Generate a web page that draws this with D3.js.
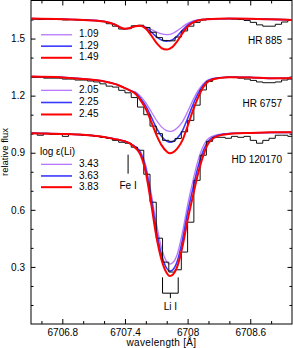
<!DOCTYPE html>
<html><head><meta charset="utf-8">
<script src="https://cdn.jsdelivr.net/npm/d3@7"></script>
<style>body{margin:0;background:#fff}svg{display:block}text{font-family:"Liberation Sans",Arial,sans-serif}</style>
</head><body><svg id="c" width="293" height="348"></svg>
<script>
// ---------- data ----------
const xMajorTicks = [6706.8, 6707.4, 6708.0, 6708.6];
const xMinorTicks = [6706.6, 6707.0, 6707.2, 6707.6, 6707.8, 6708.2, 6708.4, 6708.8];
const yMajorTicks = [0.3, 0.6, 0.9, 1.2, 1.5];
const yMinorTicks = [0.1, 0.2, 0.4, 0.5, 0.7, 0.8, 1.0, 1.1, 1.3, 1.4, 1.6];
const starNames = ["HR 885", "HR 6757", "HD 120170"];
const abundances = [["1.09","1.29","1.49"],["2.05","2.25","2.45"],["3.43","3.63","3.83"]];
const modelColors = ["#b877ff", "#3a3aff", "#ff0000"];
const modelWave = [6706.5,6706.8,6707.0,6707.2,6707.3,6707.35,6707.4,6707.45,6707.5,6707.55,6707.6,6707.65,6707.7,6707.75,6707.8,6707.83,6707.86,6707.9,6707.95,6708.0,6708.05,6708.1,6708.15,6708.2,6708.3,6708.4,6708.6,6708.8,6709.0];
// HR 885 models (low, mid, high Li)
const hr885Low  = [1.605,1.602,1.598,1.590,1.575,1.560,1.551,1.555,1.565,1.567,1.562,1.549,1.535,1.525,1.521,1.522,1.528,1.541,1.561,1.580,1.592,1.598,1.601,1.602,1.604,1.605,1.604,1.601,1.598];
const hr885Mid  = [1.605,1.602,1.598,1.590,1.575,1.560,1.551,1.555,1.565,1.567,1.557,1.535,1.510,1.492,1.486,1.488,1.495,1.513,1.543,1.570,1.587,1.596,1.600,1.602,1.604,1.605,1.604,1.601,1.598];
const hr885High = [1.605,1.602,1.598,1.590,1.575,1.560,1.551,1.555,1.565,1.567,1.552,1.518,1.478,1.450,1.442,1.447,1.458,1.485,1.527,1.562,1.584,1.595,1.600,1.602,1.604,1.605,1.604,1.601,1.598];
// HR 6757 models
const hr6757Low  = [1.300,1.296,1.288,1.275,1.262,1.252,1.240,1.227,1.220,1.196,1.162,1.118,1.072,1.036,1.016,1.012,1.015,1.030,1.062,1.115,1.175,1.226,1.262,1.284,1.295,1.297,1.296,1.291,1.293];
const hr6757Mid  = [1.300,1.296,1.288,1.275,1.262,1.252,1.240,1.227,1.214,1.185,1.145,1.090,1.032,0.987,0.961,0.955,0.959,0.976,1.015,1.080,1.150,1.210,1.255,1.280,1.294,1.297,1.296,1.291,1.293];
const hr6757High = [1.300,1.296,1.288,1.275,1.262,1.252,1.240,1.227,1.210,1.175,1.130,1.065,0.995,0.940,0.906,0.897,0.902,0.922,0.965,1.040,1.120,1.190,1.245,1.275,1.292,1.297,1.296,1.291,1.293];
// HD 120170 models
const hd120170Low  = [1.003,0.999,0.994,0.983,0.972,0.967,0.960,0.948,0.934,0.905,0.832,0.690,0.530,0.400,0.328,0.315,0.323,0.365,0.480,0.625,0.750,0.860,0.935,0.975,0.996,1.001,1.004,1.006,1.007];
const hd120170Mid  = [1.003,0.999,0.994,0.983,0.972,0.967,0.960,0.948,0.930,0.898,0.815,0.665,0.495,0.365,0.292,0.278,0.286,0.328,0.440,0.585,0.710,0.825,0.910,0.962,0.993,1.001,1.004,1.006,1.007];
const hd120170High = [1.003,0.999,0.994,0.983,0.972,0.967,0.960,0.948,0.925,0.888,0.795,0.635,0.462,0.338,0.268,0.252,0.260,0.300,0.405,0.545,0.670,0.790,0.885,0.950,0.990,0.999,1.004,1.007,1.008];
// observed spectra (bin start wavelengths, step histogram)
const obsWave = [6706.50,6706.56,6706.62,6706.68,6706.74,6706.80,6706.86,6706.92,6706.98,6707.04,6707.10,6707.16,6707.22,6707.28,6707.34,6707.40,6707.46,6707.52,6707.58,6707.64,6707.70,6707.76,6707.82,6707.88,6707.94,6708.00,6708.06,6708.12,6708.18,6708.24,6708.30,6708.36,6708.42,6708.48,6708.54,6708.60,6708.66,6708.72,6708.78,6708.84,6708.90,6708.96];
const obsEnd = 6709.0;
const hr885Obs = [1.603,1.600,1.603,1.600,1.600,1.598,1.600,1.598,1.598,1.595,1.595,1.590,1.578,1.565,1.550,1.552,1.567,1.570,1.558,1.533,1.505,1.490,1.488,1.508,1.540,1.565,1.585,1.598,1.603,1.605,1.605,1.605,1.603,1.600,1.595,1.585,1.572,1.565,1.565,1.575,1.587,1.595];
const hr6757Obs = [1.297,1.297,1.292,1.292,1.292,1.287,1.287,1.282,1.282,1.277,1.272,1.262,1.250,1.245,1.228,1.215,1.190,1.140,1.100,1.040,1.000,0.965,0.960,0.975,1.010,1.070,1.150,1.230,1.275,1.290,1.295,1.297,1.297,1.292,1.287,1.280,1.272,1.268,1.268,1.272,1.282,1.287];
const hd120170Obs = [1.002,0.992,1.002,0.997,0.997,0.986,0.997,0.997,0.992,0.992,0.986,0.981,0.976,0.965,0.955,0.950,0.929,0.913,0.787,0.640,0.451,0.325,0.273,0.285,0.378,0.535,0.755,0.887,0.960,0.981,0.981,0.976,0.986,0.981,0.986,0.965,0.950,0.965,0.976,0.992,0.992,0.986];
// line identifications
const feWave = 6707.43, liWave1 = 6707.76, liWave2 = 6707.91;

// ---------- layout ----------
const L = 31, R = 292, T = 0.5, B = 324;
const x = d3.scaleLinear().domain([6706.5, 6709.0]).range([L, R]);
const y = d3.scaleLinear().domain([0, 1.7]).range([B, T]);
const svg = d3.select("#c");
svg.append("defs").append("clipPath").attr("id","clip").append("rect")
  .attr("x", L).attr("y", T).attr("width", R - L).attr("height", B - T);

const fs = "10px";
function axisDraw(gen, tr){
  const g = svg.append("g").attr("transform", tr).call(gen);
  g.select(".domain").remove();
  g.selectAll("line").attr("stroke","#000").attr("stroke-width",1);
  g.selectAll("text").attr("font-size", fs).attr("fill","#000").style("font-family",'"Liberation Sans",Arial,sans-serif');
  return g;
}
// bottom
axisDraw(d3.axisBottom(x).tickValues(xMajorTicks).tickSize(-5).tickPadding(5).tickFormat(d=>d3.format(".1f")(d).replace(/\.0$/,"")), `translate(0,${B})`);
axisDraw(d3.axisBottom(x).tickValues(xMinorTicks).tickSize(-3).tickFormat(""), `translate(0,${B})`);
// top
axisDraw(d3.axisTop(x).tickValues(xMajorTicks).tickSize(-5).tickFormat(""), `translate(0,${T})`);
axisDraw(d3.axisTop(x).tickValues(xMinorTicks).tickSize(-3).tickFormat(""), `translate(0,${T})`);
// left
axisDraw(d3.axisLeft(y).tickValues(yMajorTicks).tickSize(-4.5).tickPadding(6).tickFormat(d3.format(".1f")), `translate(${L},0)`);
axisDraw(d3.axisLeft(y).tickValues(yMinorTicks).tickSize(-2.5).tickFormat(""), `translate(${L},0)`);
// right
axisDraw(d3.axisRight(y).tickValues(yMajorTicks).tickSize(-4.5).tickFormat(""), `translate(${R},0)`);
axisDraw(d3.axisRight(y).tickValues(yMinorTicks).tickSize(-2.5).tickFormat(""), `translate(${R},0)`);
// frame
svg.append("rect").attr("x", L).attr("y", T).attr("width", R-L).attr("height", B-T)
  .attr("fill","none").attr("stroke","#000").attr("stroke-width",1);

// axis titles
svg.append("text").attr("x", (L+R)/2).attr("y", 346).attr("text-anchor","middle")
  .attr("font-size","10px").attr("letter-spacing","0.3px").text("wavelength  [Å]");
svg.append("text").attr("transform","translate(8,152) rotate(-90)").attr("text-anchor","middle")
  .attr("font-size","9.5px").text("relative flux");

// ---------- curves ----------
const plot = svg.append("g").attr("clip-path","url(#clip)");
const modelLine = d3.line().x((d,i)=>x(modelWave[i])).y(d=>y(d)).curve(d3.curveMonotoneX);
const obsLine = d3.line().x(d=>x(d[0])).y(d=>y(d[1])).curve(d3.curveStepAfter);
const groups = [
  {models:[hr885Low, hr885Mid, hr885High], obs: hr885Obs},
  {models:[hr6757Low, hr6757Mid, hr6757High], obs: hr6757Obs},
  {models:[hd120170Low, hd120170Mid, hd120170High], obs: hd120170Obs}
];
const widths = [1.3, 1.6, 2];
groups.forEach(g=>{
  [0,1].forEach(k=>{
    plot.append("path").attr("d", modelLine(g.models[k])).attr("fill","none")
      .attr("stroke", modelColors[k]).attr("stroke-width", widths[k]);
  });
  const pts = obsWave.map((w,i)=>[w, g.obs[i]]);
  pts.push([obsEnd, g.obs[g.obs.length-1]]);
  plot.append("path").attr("d", obsLine(pts)).attr("fill","none")
    .attr("stroke","#111").attr("stroke-width",1);
  plot.append("path").attr("d", modelLine(g.models[2])).attr("fill","none")
    .attr("stroke", modelColors[2]).attr("stroke-width", widths[2]);
});

// ---------- star labels ----------
const starLabelY = [1.485, 1.155, 0.86];
starNames.forEach((s,i)=>{
  svg.append("text").attr("x", 282).attr("y", y(starLabelY[i])).attr("text-anchor","end")
    .attr("dominant-baseline","middle").attr("font-size","10px").text(s);
});

// ---------- legends ----------
const legendRows = [[1.52,1.46,1.399],[1.228,1.164,1.101],[0.839,0.778,0.719]];
abundances.forEach((grp,gi)=>{
  grp.forEach((lab,k)=>{
    const yy = y(legendRows[gi][k]);
    svg.append("line").attr("x1",41).attr("x2",72).attr("y1",yy).attr("y2",yy)
      .attr("stroke", modelColors[k]).attr("stroke-width", widths[k]);
    svg.append("text").attr("x",79).attr("y",yy).attr("dominant-baseline","middle")
      .attr("font-size","10px").text(lab);
  });
});
svg.append("text").attr("x",40).attr("y",y(0.9)).attr("dominant-baseline","middle")
  .attr("font-size","10px").text("log ε(Li)");

// ---------- line markers ----------
svg.append("line").attr("x1",x(feWave)).attr("x2",x(feWave)).attr("y1",y(0.89)).attr("y2",y(0.79))
  .attr("stroke","#000").attr("stroke-width",1);
svg.append("text").attr("x",x(feWave)).attr("y",y(0.722)).attr("text-anchor","middle")
  .attr("dominant-baseline","middle").attr("font-size","10px").text("Fe I");
const liTop = y(0.245), liBot = y(0.162), liStem = y(0.136);
const xm = (x(liWave1)+x(liWave2))/2;
svg.append("path").attr("d",`M${x(liWave1)},${liTop}V${liBot}H${x(liWave2)}V${liTop}M${xm},${liBot}V${liStem}`)
  .attr("fill","none").attr("stroke","#000").attr("stroke-width",1);
svg.append("text").attr("x",xm).attr("y",y(0.09)).attr("text-anchor","middle")
  .attr("dominant-baseline","middle").attr("font-size","10px").text("Li I");
</script></body></html>
